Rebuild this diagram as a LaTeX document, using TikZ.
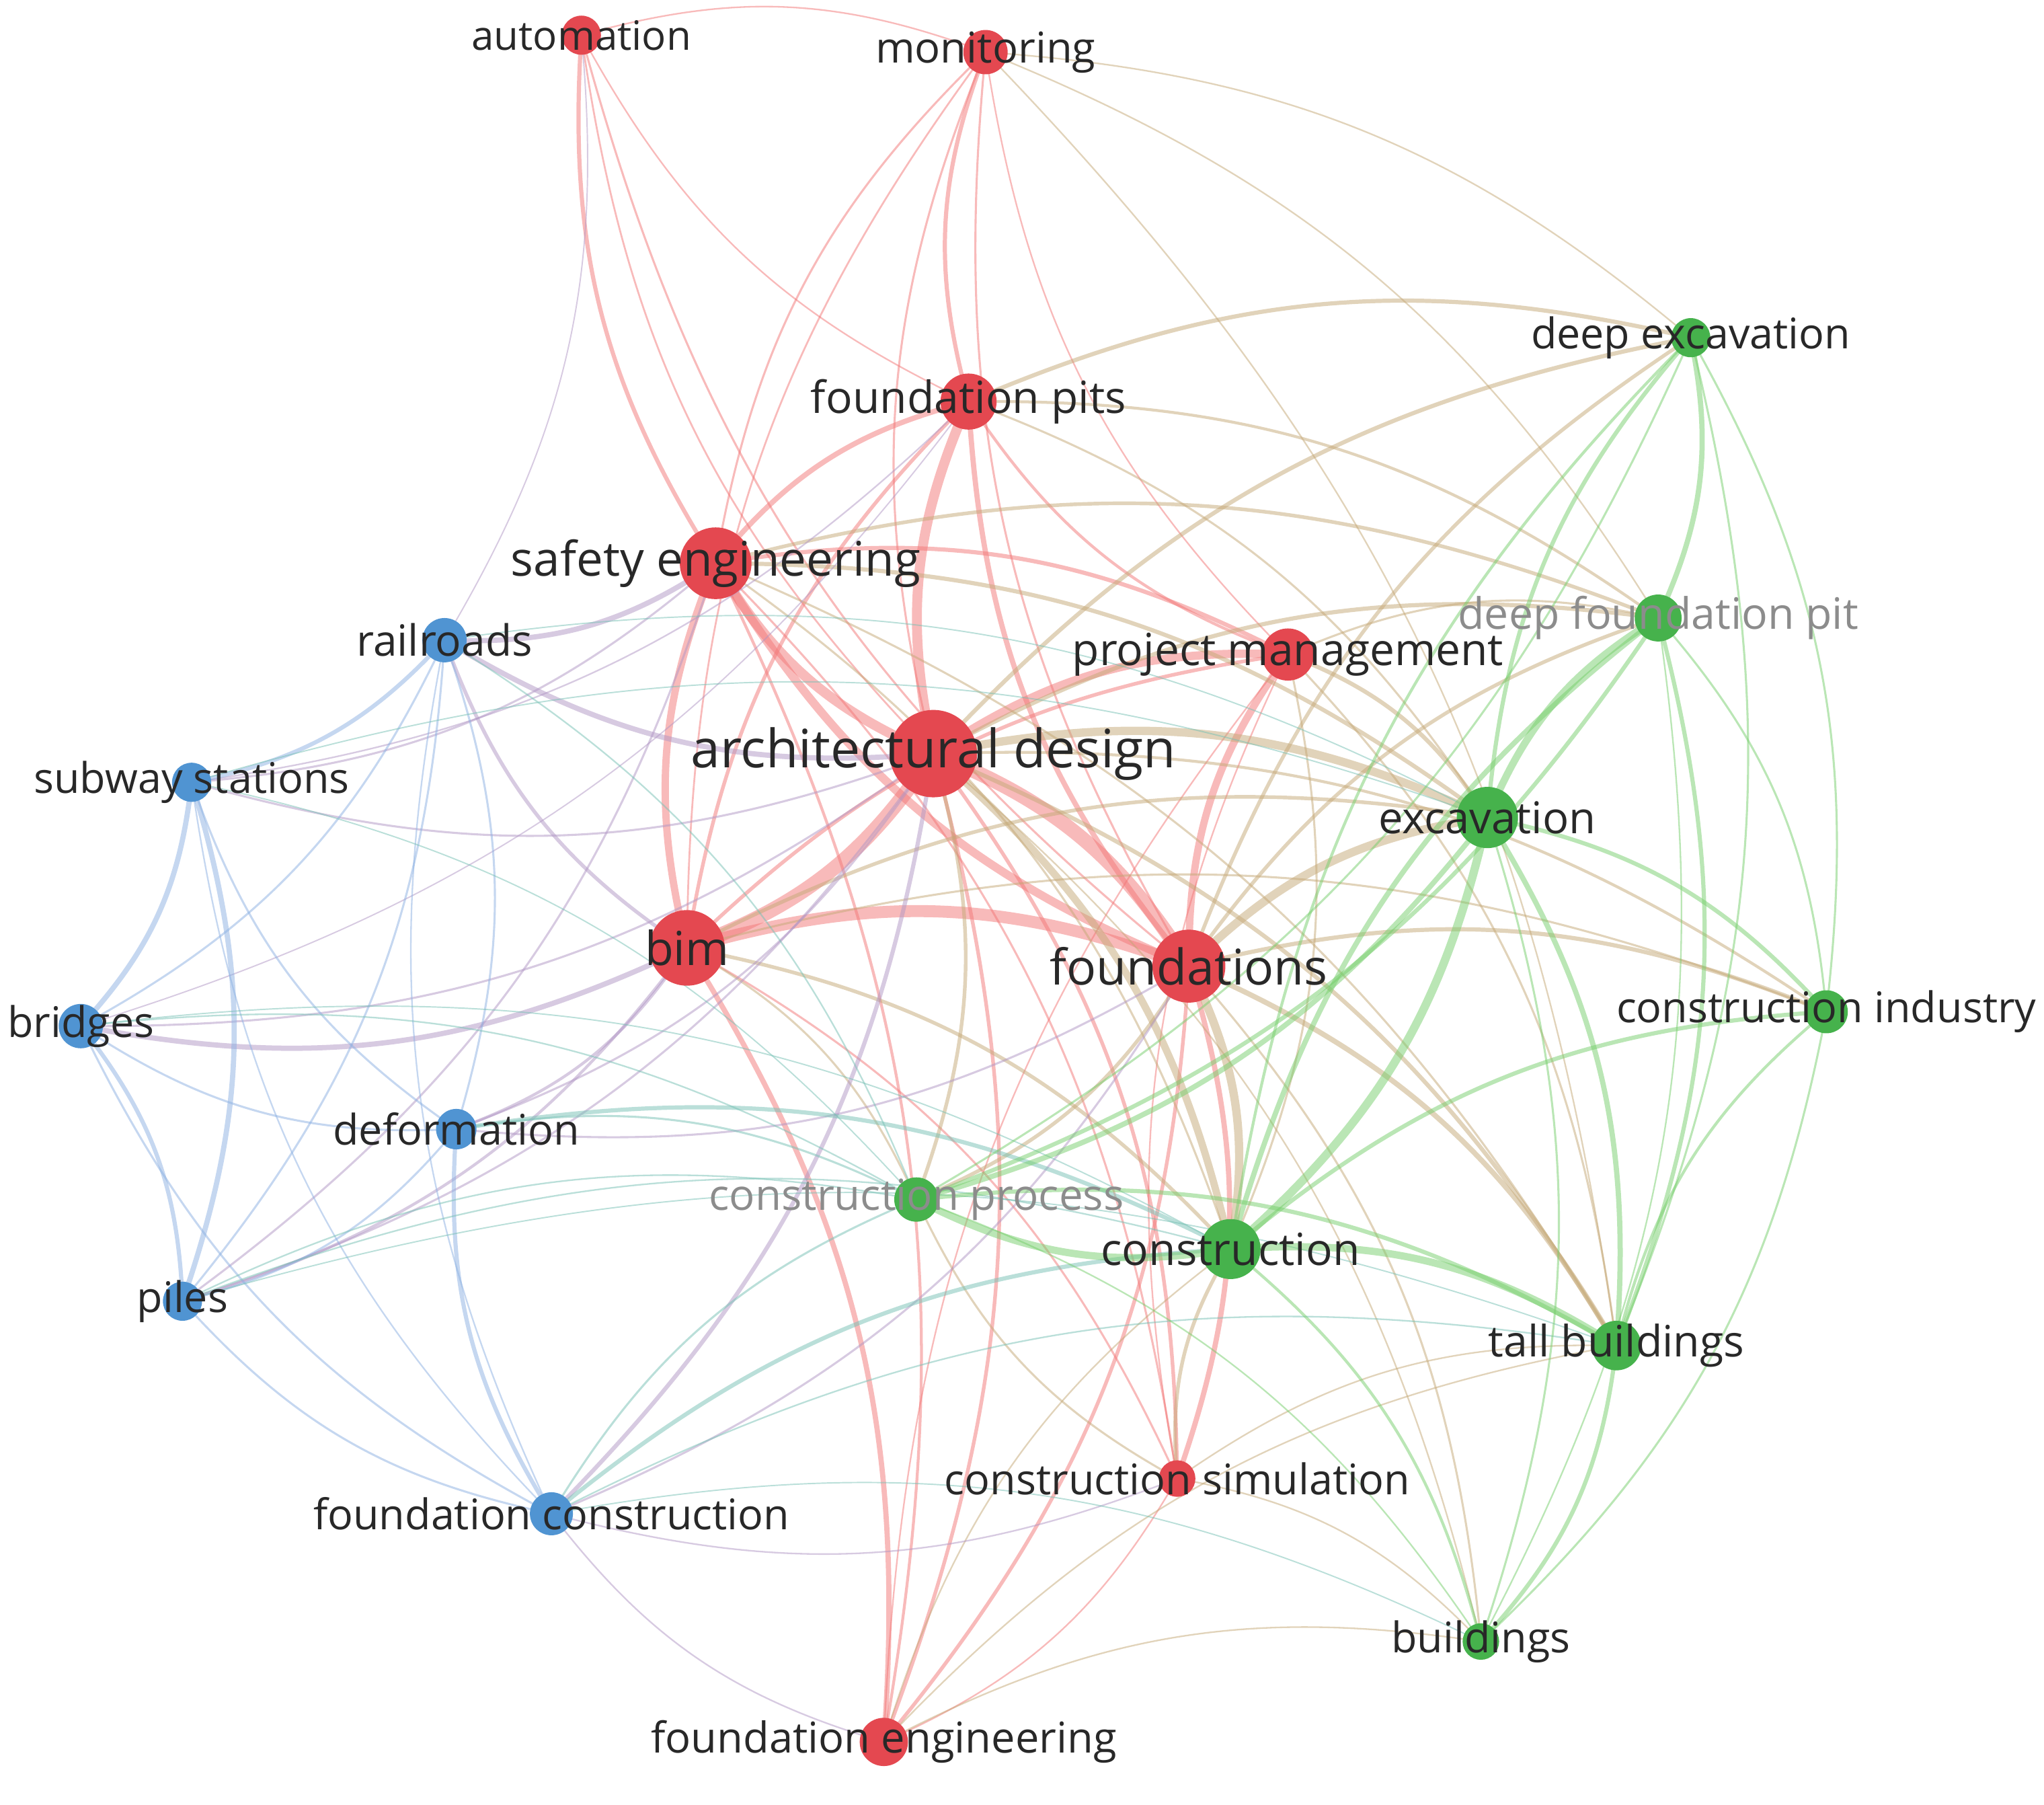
\documentclass[tikz,border=0pt]{standalone}
\usepackage{fontspec}
\setmainfont{Open Sans}
\usetikzlibrary{backgrounds}
\definecolor{nodered}{RGB}{228,72,80}
\definecolor{nodeblue}{RGB}{80,148,210}
\definecolor{nodegreen}{RGB}{70,178,76}
\definecolor{edgered}{RGB}{242,118,118}
\definecolor{edgeblue}{RGB}{140,176,226}
\definecolor{edgegreen}{RGB}{118,206,108}
\definecolor{edgeolive}{RGB}{196,168,118}
\definecolor{edgepurple}{RGB}{176,150,196}
\definecolor{edgeteal}{RGB}{118,192,180}
\definecolor{labeltext}{RGB}{40,40,40}
\definecolor{labelgray}{RGB}{140,140,140}
\tikzset{
  kw/.style={circle, inner sep=0pt, minimum size=#1},
  rnode/.style={kw=#1, fill=nodered},
  bnode/.style={kw=#1, fill=nodeblue},
  gnode/.style={kw=#1, fill=nodegreen},
  lbl/.style={font=\fontsize{#1}{#1}\selectfont, text=labeltext, inner sep=0pt},
  lblgray/.style={lbl=#1, text=labelgray},
  link/.style={draw opacity=0.5, line cap=round},
}
\begin{document}
\begin{tikzpicture}[x=0.5pt, y=-0.5pt]
\useasboundingbox (0,0) rectangle (1568,1384);

% red cluster
\node[rnode=15, label={[lbl=15.5]center:automation}] (aut) at (446,27) {};
\node[rnode=17, label={[lbl=16.3]center:monitoring}] (mon) at (756,40) {};
\node[rnode=21.5, label={[lbl=17]center:foundation pits}] (fpits) at (743,308) {};
\node[rnode=27.5, label={[lbl=18.3]center:safety engineering}] (safe) at (549,432) {};
\node[rnode=20, label={[lbl=17]center:project management}] (pm) at (988,502) {};
\node[rnode=33.5, label={[lbl=20.3]center:architectural design}] (ad) at (716,578) {};
\node[rnode=29, label={[lbl=18]center:bim}] (bim) at (527,727) {};
\node[rnode=28, label={[lbl=18.9]center:foundations}] (fdn) at (912,741) {};
\node[rnode=14, label={[lbl=16.2]center:construction simulation}] (csim) at (903,1134) {};
\node[rnode=18.5, label={[lbl=16.3]center:foundation engineering}] (feng) at (678,1336) {};

% blue cluster
\node[bnode=17, label={[lbl=16.5]center:railroads}] (rail) at (341,491) {};
\node[bnode=15, label={[lbl=16.2]center:subway stations}] (sub) at (147,600) {};
\node[bnode=17, label={[lbl=16.2]center:bridges}] (brg) at (62,787) {};
\node[bnode=15.5, label={[lbl=16.2]center:deformation}] (def) at (350,866) {};
\node[bnode=15, label={[lbl=16.2]center:piles}] (pil) at (140,998) {};
\node[bnode=16.5, label={[lbl=16.2]center:foundation construction}] (fcon) at (423,1161) {};

% green cluster
\node[gnode=15, label={[lbl=16.2]center:deep excavation}] (dexc) at (1297,259) {};
\node[gnode=18, label={[lblgray=16.6]center:deep foundation pit}] (dfp) at (1272,474) {};
\node[gnode=23.5, label={[lbl=16.8]center:excavation}] (exc) at (1141,627) {};
\node[gnode=16.5, label={[lbl=16.2]center:construction industry}] (cind) at (1401,776) {};
\node[gnode=17, label={[lblgray=16.4]center:construction process}] (cproc) at (703,920) {};
\node[gnode=23, label={[lbl=17]center:construction}] (con) at (944,958) {};
\node[gnode=19, label={[lbl=16.6]center:tall buildings}] (tall) at (1240,1032) {};
\node[gnode=14, label={[lbl=16.2]center:buildings}] (bld) at (1136,1259) {};

\begin{scope}[on background layer]
% links inside the red cluster
\foreach \a/\b/\w in {ad/bim/5.5, ad/fdn/5.5, ad/safe/3.8, ad/fpits/3.8, ad/pm/3.2,
    ad/mon/0.8, ad/aut/0.7, ad/csim/1.4, ad/feng/1.4, bim/fdn/4.6, bim/safe/2.8,
    bim/fpits/1.4, bim/pm/1.4, bim/feng/2, bim/csim/0.8, bim/mon/0.7,
    fdn/safe/3.2, fdn/pm/2.8, fdn/fpits/2, fdn/csim/2, fdn/feng/1.4, fdn/mon/0.8,
    fdn/aut/0.8, safe/fpits/2, safe/aut/1.6, safe/mon/0.8, safe/pm/1.6,
    safe/feng/1.1, safe/csim/0.8, pm/fpits/1.1, pm/mon/0.6, fpits/mon/1.6, aut/mon/0.6,
    csim/feng/0.6, fpits/aut/0.6, feng/pm/0.6, csim/pm/0.6}
  \draw[link, edgered, line width=\w pt] (\a.center) to[bend left=18] (\b.center);
% links between red and green
\foreach \a/\b/\w in {ad/exc/3.2, ad/con/2.8, ad/dexc/1.6, ad/dfp/1.6, ad/tall/1.6,
    ad/cind/1.1, ad/cproc/1.4, ad/bld/0.6, fdn/exc/3.2, fdn/con/3.2, fdn/tall/2,
    fdn/dexc/1.4, fdn/dfp/1.4, fdn/cind/1.6, fdn/cproc/1.4, fdn/bld/0.8, bim/con/1.4,
    bim/cproc/0.8, bim/exc/1.4, bim/cind/0.8, safe/exc/1.6, safe/con/0.8,
    safe/dfp/1.4, safe/tall/0.8, fpits/dexc/1.6, fpits/dfp/1.1, fpits/exc/0.8,
    pm/exc/1.6, pm/dfp/0.8, pm/con/0.8, pm/tall/0.8, mon/dexc/0.6, mon/dfp/0.6,
    mon/tall/0.6, csim/con/1.4, csim/bld/0.6, csim/tall/0.6, csim/cproc/0.8,
    feng/con/0.6, feng/bld/0.6, feng/tall/0.6}
  \draw[link, edgeolive, line width=\w pt] (\a.center) to[bend left=18] (\b.center);
% links between red and blue
\foreach \a/\b/\w in {safe/rail/2, ad/rail/2, bim/brg/2, bim/rail/1.4, ad/sub/0.8,
    bim/def/1.1, fdn/def/0.8, safe/sub/0.8, bim/pil/1.1, fpits/sub/0.6, ad/fcon/1.6,
    fdn/fcon/0.8, feng/fcon/0.6, csim/fcon/0.6, aut/rail/0.5, fpits/brg/0.5,
    safe/pil/0.8, ad/pil/0.8, ad/brg/0.8, ad/def/0.8}
  \draw[link, edgepurple, line width=\w pt] (\a.center) to[bend left=18] (\b.center);
% links inside the blue cluster
\foreach \a/\b/\w in {sub/brg/2, sub/pil/2, brg/pil/1.6, rail/sub/1.6, rail/brg/0.8,
    rail/pil/0.8, rail/def/0.8, def/pil/0.8, def/brg/0.8, def/sub/0.8, fcon/pil/0.8,
    fcon/def/1.6, fcon/brg/0.8, fcon/sub/0.6, fcon/rail/0.6}
  \draw[link, edgeblue, line width=\w pt] (\a.center) to[bend left=18] (\b.center);
% links between blue and green
\foreach \a/\b/\w in {def/con/1.6, fcon/con/1.6, fcon/cproc/0.8, pil/con/0.6,
    pil/cproc/0.6, rail/cproc/0.6, sub/cproc/0.5, brg/cproc/0.6, rail/exc/0.5,
    def/cproc/0.8, pil/tall/0.5, fcon/tall/0.6, fcon/bld/0.5, sub/exc/0.5, brg/con/0.5}
  \draw[link, edgeteal, line width=\w pt] (\a.center) to[bend left=18] (\b.center);
% links inside the green cluster
\foreach \a/\b/\w in {exc/con/3.2, exc/dexc/1.6, exc/dfp/2.8, exc/tall/2, exc/cind/1.6,
    exc/cproc/2, exc/bld/0.8, con/tall/2.8, con/cproc/2.8, con/dfp/2,
    con/dexc/1.1, con/cind/1.6, con/bld/1.1, dexc/dfp/2, dexc/tall/0.8, dexc/cind/0.8,
    dfp/tall/1.6, dfp/cind/0.8, dfp/cproc/1.6, tall/bld/1.6, tall/cind/1.1,
    cind/bld/0.8, cproc/tall/1.6, cproc/bld/0.6, dfp/bld/0.6, dexc/cproc/0.8}
  \draw[link, edgegreen, line width=\w pt] (\a.center) to[bend left=18] (\b.center);
\end{scope}
\end{tikzpicture}
\end{document}
